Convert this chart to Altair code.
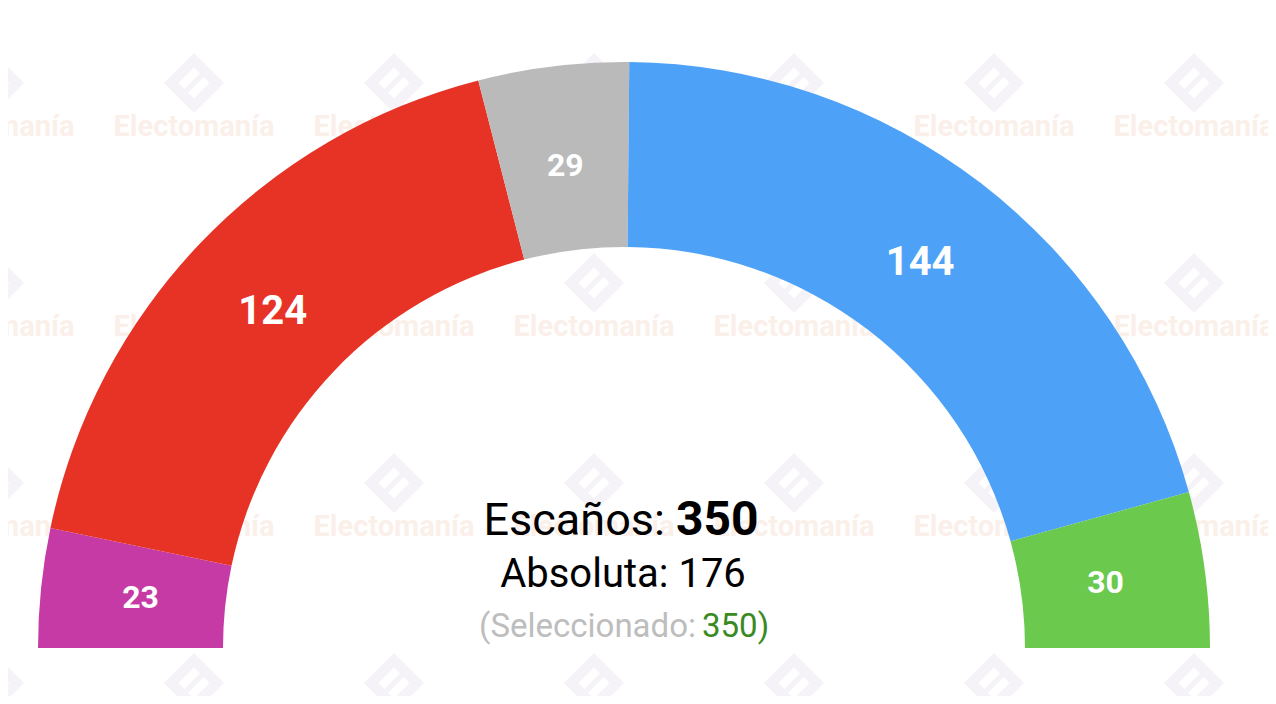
import math
import altair as alt
import pandas as pd

# ---- data ----
parties = ["P1", "P2", "P3", "P4", "P5"]
seats = [23, 124, 29, 144, 30]
colors = ["#C63AA5", "#E63326", "#BABABA", "#4DA2F8", "#6BC94D"]

total = sum(seats)
majority = total // 2 + 1
selected = total

# ---- layout ----
W, H = 1260, 688
CX, CY = 616, 640
R_OUT, R_IN = 586, 401
R_LAB = 486
FONT = "Roboto"

df = pd.DataFrame({"party": parties, "seats": seats, "idx": list(range(len(seats)))})

# watermark grid (decoration)
wm_rows = []
for gx in range(-14, 1300, 200):
    for gy in range(119, 800, 200):
        wm_rows.append({"x": gx, "y": gy, "ly": gy - 44, "t": "Electomanía"})
wm = pd.DataFrame(wm_rows)

logo_path = ("M0,-1L1,0L0,1L-1,0Z"
             "M0,-0.52L-0.52,0L0,0.52L0.52,0Z"
             "M0.22,-0.34L0.34,-0.22L-0.22,0.34L-0.34,0.22Z")

wm_text = alt.Chart(wm).mark_text(
    font=FONT, fontWeight="bold", fontSize=29, color="#FBEFEA",
    align="center", baseline="middle"
).encode(x=alt.X("x:Q", scale=None), y=alt.Y("y:Q", scale=None), text="t:N")

wm_logo = alt.Chart(wm).mark_point(
    shape=logo_path, filled=True, size=3600, color="#F5F2F8", opacity=1
).encode(x=alt.X("x:Q", scale=None), y=alt.Y("ly:Q", scale=None))

base = alt.Chart(df).encode(
    theta=alt.Theta("seats:Q", stack=True,
                    scale=alt.Scale(range=[-math.pi / 2, math.pi / 2])),
    order=alt.Order("idx:Q"),
)

arcs = base.mark_arc(innerRadius=R_IN, outerRadius=R_OUT, x=CX, y=CY).encode(
    color=alt.Color("party:N", scale=alt.Scale(domain=parties, range=colors), legend=None)
)

labels = base.mark_text(
    radius=R_LAB, x=CX, y=CY, font=FONT, fontWeight="bold",
    color="white", align="center", baseline="middle"
).encode(
    text="seats:Q",
    size=alt.condition("datum.seats > 100", alt.value(40), alt.value(32)),
)

def txt(s, x, y, size, color="black", weight="normal", align="center"):
    return alt.Chart(pd.DataFrame({"t": [s]})).mark_text(
        font=FONT, fontSize=size, color=color, fontWeight=weight,
        align=align, baseline="alphabetic"
    ).encode(text="t:N", x=alt.value(x), y=alt.value(y))

center = [
    txt("Escaños:", 657, 527, 45, align="right"),
    txt(str(total), 668, 527, 48, weight="bold", align="left"),
    txt(f"Absoluta: {majority}", 615, 579, 40),
    txt("(Seleccionado:", 688, 629, 33, color="#BDBDBD", align="right"),
    txt(f"{selected})", 694, 629, 33, color="#3A8A22", align="left"),
]

chart = alt.layer(wm_logo, wm_text, arcs, labels, *center).properties(
    width=W, height=H, autosize=alt.AutoSizeParams(type="none"), padding=0,
    background="white"
).configure_view(stroke=None)

chart.save("out.html", embed_options={"renderer": "svg", "actions": False})
